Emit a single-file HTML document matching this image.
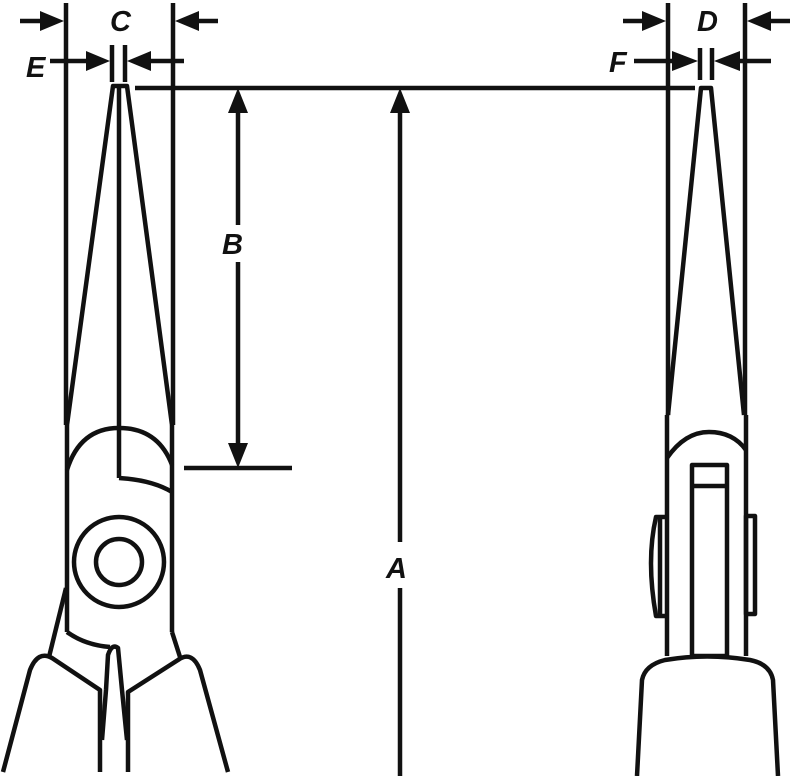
<!DOCTYPE html>
<html><head><meta charset="utf-8"><style>
html,body{margin:0;padding:0;background:#fff;}
svg{display:block}
text{font-family:"Liberation Sans",sans-serif;font-weight:bold;font-style:italic;font-size:29px;fill:#111;}
</style></head><body>
<svg width="792" height="776" viewBox="0 0 792 776" xmlns="http://www.w3.org/2000/svg">
<g stroke="#111" stroke-width="4.5" fill="none" stroke-linecap="butt" stroke-linejoin="round">
<!-- left plier extension/body lines -->
<line x1="66" y1="3" x2="66" y2="425"/>
<line x1="173" y1="3" x2="173" y2="425"/>
<line x1="67" y1="425" x2="67" y2="632"/>
<line x1="172" y1="425" x2="172" y2="632"/>
<!-- jaws -->
<polyline points="67,425 113,86 127,86 172,425"/>
<line x1="119" y1="86" x2="119" y2="478"/>
<path d="M67,470 Q80,428 119,428 Q158,428 172,465"/>
<path d="M119,478 Q152,480 172,492"/>
<circle cx="119" cy="562" r="45"/>
<circle cx="119" cy="562" r="23"/>
<!-- bottom left -->
<path d="M67,632 Q85,645 110,647"/>
<path d="M66,588 L49,657"/>
<path d="M172,632 L180,657"/>
<path d="M3,772 L30,670 Q38,650 52,658 L100,690 L100,772"/>
<path d="M228,772 L200,670 Q192,650 178,660 L128,692 L128,772"/>
<path d="M102,740 L106,690 L108,655 Q112,643 118,648 L122,690 L127,740"/>
<!-- right plier -->
<line x1="668" y1="3" x2="668" y2="415"/>
<line x1="745" y1="3" x2="745" y2="415"/>
<polyline points="668,415 701,88 711,88 744,415"/>
<line x1="667" y1="415" x2="667" y2="656"/>
<line x1="746" y1="415" x2="746" y2="656"/>
<path d="M667,458 Q685,432 709,432 Q733,432 746,450"/>
<rect x="692" y="465" width="35" height="191"/>
<line x1="692" y1="486" x2="727" y2="486"/>
<path d="M667,517 L656,517 Q646,560 656,616 L667,616"/>
<line x1="660" y1="517" x2="660" y2="616"/>
<rect x="746" y="516" width="9" height="98"/>
<path d="M637,776 L642,680 Q645,665 665,660 Q707,653 750,660 Q770,664 773,680 L778,776"/>
<!-- dimension lines -->
<line x1="135" y1="88" x2="695" y2="88"/>
<line x1="400" y1="108" x2="400" y2="542"/>
<line x1="400" y1="588" x2="400" y2="776"/>
<line x1="238" y1="110" x2="238" y2="225"/>
<line x1="238" y1="262" x2="238" y2="445"/>
<line x1="184" y1="468" x2="292" y2="468"/>
<line x1="20" y1="21" x2="50" y2="21"/>
<line x1="185" y1="21" x2="218" y2="21"/>
<line x1="50" y1="61" x2="95" y2="61"/>
<line x1="140" y1="61" x2="184" y2="61"/>
<line x1="112" y1="45" x2="112" y2="82"/>
<line x1="125" y1="45" x2="125" y2="82"/>
<line x1="623" y1="21" x2="650" y2="21"/>
<line x1="760" y1="21" x2="790" y2="21"/>
<line x1="634" y1="61" x2="685" y2="61"/>
<line x1="727" y1="61" x2="771" y2="61"/>
<line x1="700" y1="48" x2="700" y2="80"/>
<line x1="712" y1="48" x2="712" y2="80"/>
</g>
<g fill="#111">
<polygon points="400,88 390,113 410,113"/>
<polygon points="238,88 228,113 248,113"/>
<polygon points="238,468 228,443 248,443"/>
<polygon points="64,21 40,11 40,31"/>
<polygon points="175,21 199,11 199,31"/>
<polygon points="110,61 86,51 86,71"/>
<polygon points="127,61 151,51 151,71"/>
<polygon points="666,21 642,11 642,31"/>
<polygon points="747,21 771,11 771,31"/>
<polygon points="698,61 672,51 672,71"/>
<polygon points="714,61 740,51 740,71"/>
</g>
<text x="110" y="31">C</text>
<text x="26" y="77">E</text>
<text x="222" y="254">B</text>
<text x="386" y="578">A</text>
<text x="697" y="31">D</text>
<text x="609" y="72">F</text>
</svg>
</body></html>
